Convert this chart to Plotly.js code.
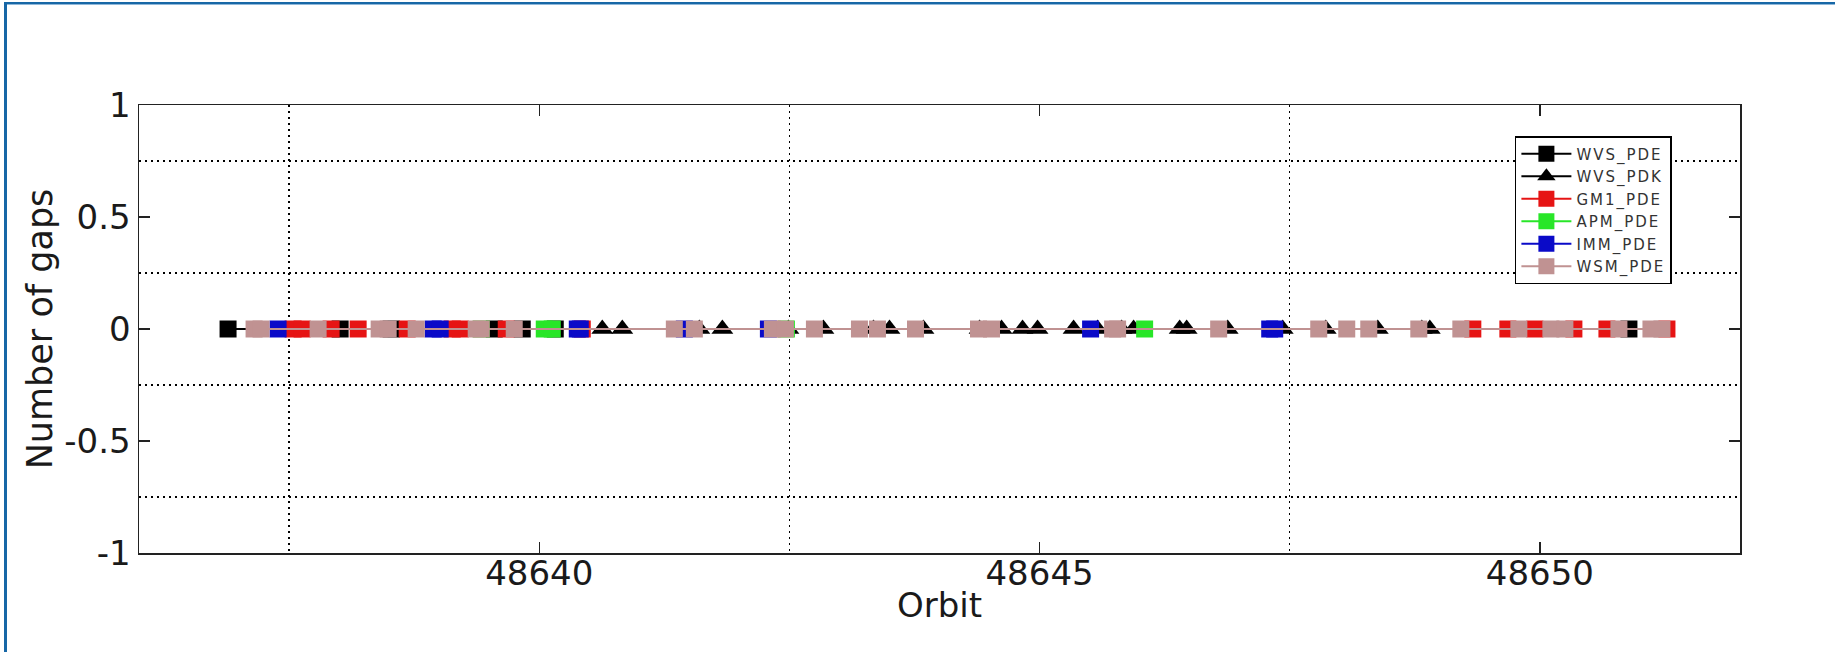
<!DOCTYPE html>
<html>
<head>
<meta charset="utf-8">
<script src="https://cdn.plot.ly/plotly-3.0.1.min.js"></script>
<style>
  html, body { margin: 0; padding: 0; background: #fff; overflow: hidden; }
  #wrap { position: relative; width: 1835px; height: 652px; }
  #chart { position: absolute; left: 0; top: 0; width: 1835px; height: 652px; }
  #frameTop { position: absolute; left: 4px; top: 2px; width: 1831px; height: 2px; background: #1767a6; border-bottom: 1px solid #8fb8da; }
  #frameLeft { position: absolute; left: 4px; top: 2px; width: 3px; height: 650px; background: #1767a6; }
  .legendtext { letter-spacing: 2px; }
</style>
</head>
<body>
<div id="wrap">
  <div id="chart"></div>
  <div id="frameTop"></div>
  <div id="frameLeft"></div>
</div>
<script>
// ---- data (orbit positions of each reported file; number of gaps = 0) ----
const seriesNames = ["WVS_PDE", "WVS_PDK", "GM1_PDE", "APM_PDE", "IMM_PDE", "WSM_PDE"];

const wvsPdeOrbit = [48636.89, 48638.01, 48638.52, 48639.55, 48639.83, 48640.16, 48650.89];
const wvsPdeGaps  = [0, 0, 0, 0, 0, 0, 0];

const wvsPdkOrbit = [48640.63, 48640.83, 48641.60, 48641.83, 48642.49, 48642.84, 48643.34, 48643.50,
                     48643.84, 48644.40, 48644.62, 48644.83, 48644.98, 48645.34, 48645.58, 48645.82,
                     48645.94, 48646.40, 48646.47, 48646.88, 48647.43, 48647.86, 48648.38, 48648.82,
                     48648.90];
const wvsPdkGaps  = [0, 0, 0, 0, 0, 0, 0, 0, 0, 0, 0, 0, 0, 0, 0, 0, 0, 0, 0, 0, 0, 0, 0, 0, 0];

const gm1PdeOrbit = [48637.54, 48637.63, 48637.92, 48638.19, 48638.68, 48639.13, 48639.21, 48639.67,
                     48640.43, 48649.33, 48649.68, 48649.95, 48650.34, 48650.67, 48651.27];
const gm1PdeGaps  = [0, 0, 0, 0, 0, 0, 0, 0, 0, 0, 0, 0, 0, 0, 0];

const apmPdeOrbit = [48639.42, 48640.05, 48640.13, 48642.47, 48646.05];
const apmPdeGaps  = [0, 0, 0, 0, 0];

const immPdeOrbit = [48637.39, 48638.94, 48639.01, 48640.38, 48640.41, 48641.45, 48642.29, 48645.51,
                     48647.30, 48647.35];
const immPdeGaps  = [0, 0, 0, 0, 0, 0, 0, 0, 0, 0];

const wsmPdeOrbit = [48637.15, 48637.22, 48637.79, 48638.40, 48638.49, 48638.77, 48639.37, 48639.42,
                     48639.75, 48641.35, 48641.55, 48642.33, 48642.46, 48642.75, 48643.20, 48643.38,
                     48643.76, 48644.39, 48644.52, 48645.73, 48645.78, 48646.79, 48647.79, 48648.07,
                     48648.29, 48648.79, 48649.21, 48649.79, 48650.11, 48650.25, 48650.79, 48651.11,
                     48651.22];
const wsmPdeGaps  = [0, 0, 0, 0, 0, 0, 0, 0, 0, 0, 0, 0, 0, 0, 0, 0, 0, 0, 0, 0, 0, 0, 0, 0, 0, 0, 0,
                     0, 0, 0, 0, 0, 0];

const xTickVals = [48640, 48645, 48650];
const xTickText = ["48640", "48645", "48650"];
const xGridVals = [48637.5, 48642.5, 48647.5];
const yTickVals = [-1, -0.5, 0, 0.5, 1];
const yTickText = ["-1", "-0.5", "0", "0.5", "1"];
const yGridVals = [-0.75, -0.25, 0.25, 0.75];
const xTitle = "Orbit";
const yTitle = "Number of gaps";

// ---- styles ----
const colors  = ["#000000", "#000000", "#e61414", "#28e628", "#0a0ac8", "#c09292"];
const symbols = ["square", "triangle-up", "square", "square", "square", "square"];
const sizes   = [17, 19, 17, 17, 17, 17];

const xs = [wvsPdeOrbit, wvsPdkOrbit, gm1PdeOrbit, apmPdeOrbit, immPdeOrbit, wsmPdeOrbit];
const ys = [wvsPdeGaps, wvsPdkGaps, gm1PdeGaps, apmPdeGaps, immPdeGaps, wsmPdeGaps];

const traces = seriesNames.map((name, i) => ({
  type: "scatter",
  mode: "lines+markers",
  name: name,
  x: xs[i],
  y: ys[i],
  line: { color: colors[i], width: 2 },
  marker: { symbol: symbols[i], size: sizes[i], color: colors[i], line: { width: 0 } }
}));

const font = "DejaVu Sans, Liberation Sans, Arial, sans-serif";
const axisCommon = {
  showline: true, mirror: "ticks", linecolor: "#222", linewidth: 1.5,
  ticks: "inside", ticklen: 11, tickwidth: 1.5, tickcolor: "#222",
  showgrid: false, zeroline: false, tickmode: "array",
  tickfont: { family: font, size: 34, color: "#1a1a1a" }
};

const layout = {
  width: 1835, height: 652,
  paper_bgcolor: "#ffffff", plot_bgcolor: "#ffffff",
  margin: { l: 139, r: 95, t: 105, b: 99, autoexpand: false },
  showlegend: true,
  legend: {
    x: 0.8594, y: 0.9308, xanchor: "left", yanchor: "top",
    bgcolor: "#ffffff", bordercolor: "#000", borderwidth: 1.5,
    font: { family: font, size: 15, color: "#333" },
    itemwidth: 50, tracegroupgap: 0
  },
  xaxis: Object.assign({}, axisCommon, {
    range: [48636, 48652],
    tickvals: xTickVals, ticktext: xTickText,
    ticklabelstandoff: -10,
    minor: { tickmode: "array", tickvals: xGridVals, ticks: "", showgrid: true,
             gridcolor: "#000", gridwidth: 1.3, griddash: "2px,4px" }
  }),
  yaxis: Object.assign({}, axisCommon, {
    range: [-1, 1],
    tickvals: yTickVals, ticktext: yTickText,
    minor: { tickmode: "array", tickvals: yGridVals, ticks: "", showgrid: true,
             gridcolor: "#000", gridwidth: 1.3, griddash: "2px,4px" },
    title: { text: yTitle, font: { family: font, size: 35, color: "#1a1a1a" }, standoff: 1 }
  }),
  annotations: [{
    text: xTitle, xref: "paper", yref: "paper", x: 0.5, y: -0.1161,
    xanchor: "center", yanchor: "middle", showarrow: false,
    font: { family: font, size: 34, color: "#1a1a1a" }
  }]
};

Plotly.newPlot("chart", traces, layout, { displayModeBar: false, staticPlot: true });
</script>
</body>
</html>
